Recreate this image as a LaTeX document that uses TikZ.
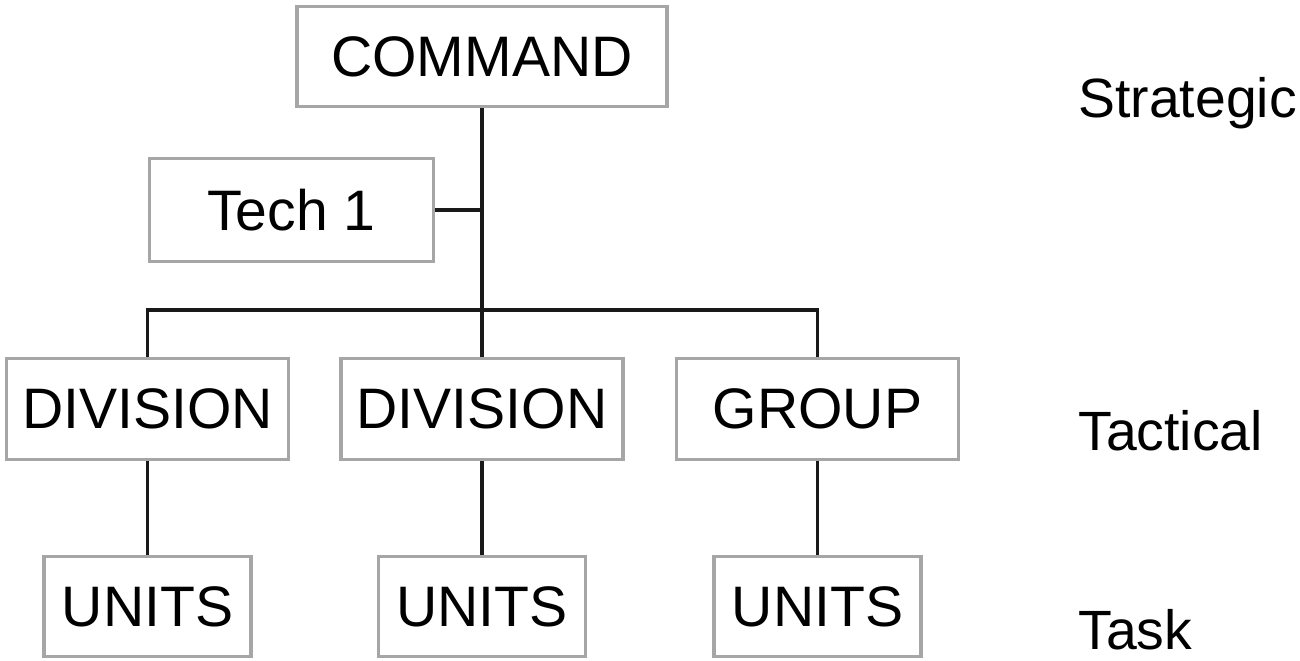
\documentclass[tikz,border=0pt]{standalone}
\usepackage{fontspec}
\setmainfont{Liberation Sans}
\usepackage{tikz}

\begin{document}
\begin{tikzpicture}[x=0.02cm,y=-0.02cm,
        box/.style={draw=black!35,line width=1.8pt,inner sep=0pt,font=\fontsize{32.5}{38}\selectfont},
        link/.style={draw=black!90,line width=2.1pt},
        level/.style={anchor=base west,inner sep=0pt,font=\fontsize{31.5}{36}\selectfont}]
            \useasboundingbox (0,0) rectangle (1300,661);
            % boxes
            \node[box,minimum width=370*0.02cm,minimum height=100*0.02cm] (cmd) at (482,56.5) {COMMAND};
            \node[box,minimum width=284*0.02cm,minimum height=103*0.02cm] (tech) at (291.5,210) {Tech 1};
            \node[box,minimum width=282*0.02cm,minimum height=101*0.02cm] (div1) at (147.5,409) {DIVISION};
            \node[box,minimum width=282*0.02cm,minimum height=101*0.02cm] (div2) at (482,409) {DIVISION};
            \node[box,minimum width=282*0.02cm,minimum height=101*0.02cm] (grp) at (817.5,409) {GROUP};
            \node[box,minimum width=207*0.02cm,minimum height=100*0.02cm] (unit1) at (147.5,606.5) {UNITS};
            \node[box,minimum width=207*0.02cm,minimum height=100*0.02cm] (unit2) at (482,606.5) {UNITS};
            \node[box,minimum width=207*0.02cm,minimum height=100*0.02cm] (unit3) at (817.5,606.5) {UNITS};
            % lines
            \coordinate (bus) at (482,310);
            \draw[link] (cmd) -- (div2);
            \draw[link] (div1.north) |- (bus) -| (grp.north);
            \draw[link] (tech.east) -- (tech.east -| cmd.south);
            \draw[link] (div1) -- (unit1);
            \draw[link] (div2) -- (unit2);
            \draw[link] (grp) -- (unit3);
            % levels
            \node[level] (strat) at (1078,118) {Strategic};
            \node[level] (tact) at (1078,451) {Tactical};
            \node[level] (task) at (1078,649) {Task};
        \end{tikzpicture}
\end{document}
